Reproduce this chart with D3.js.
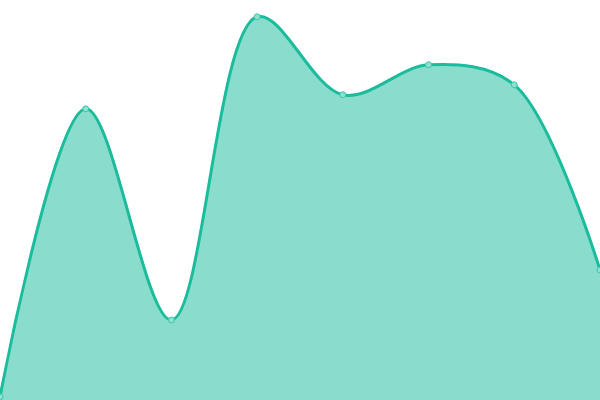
<!DOCTYPE html>
<html>
<head>
<meta charset="utf-8">
<script src="https://cdn.jsdelivr.net/npm/d3@7"></script>
<style>
  body { margin: 0; background: #fff; }
  svg { display: block; }
</style>
</head>
<body>
<svg width="600" height="400"></svg>
<script>
// Chart data
const categories = ["A", "B", "C", "D", "E", "F", "G", "H"];
const values = [0.8, 72.8, 20, 95.8, 76.3, 83.8, 78.8, 32.5];

const svg = d3.select("svg");
const width = +svg.attr("width"), height = +svg.attr("height");

const x = d3.scalePoint().domain(categories).range([0, width]);
const y = d3.scaleLinear().domain([0, 100]).range([height, 0]);

const data = categories.map((c, i) => ({ c, v: values[i] }));
const curve = d3.curveCatmullRom.alpha(0.5);

// Area fill
svg.append("path")
  .datum(data)
  .attr("fill", "#1abc9c")
  .attr("fill-opacity", 0.51)
  .attr("d", d3.area()
    .x(d => x(d.c))
    .y0(height)
    .y1(d => y(d.v))
    .curve(curve));

// Line on top
svg.append("path")
  .datum(data)
  .attr("fill", "none")
  .attr("stroke", "#1abc9c")
  .attr("stroke-width", 3)
  .attr("d", d3.line()
    .x(d => x(d.c))
    .y(d => y(d.v))
    .curve(curve));

// Point markers
svg.selectAll(".dot")
  .data(data)
  .enter()
  .append("circle")
  .attr("class", "dot")
  .attr("cx", d => x(d.c))
  .attr("cy", d => y(d.v))
  .attr("r", 3)
  .attr("fill", "#8ee0cf")
  .attr("stroke", "#3cc7a8")
  .attr("stroke-width", 1);
</script>
</body>
</html>
